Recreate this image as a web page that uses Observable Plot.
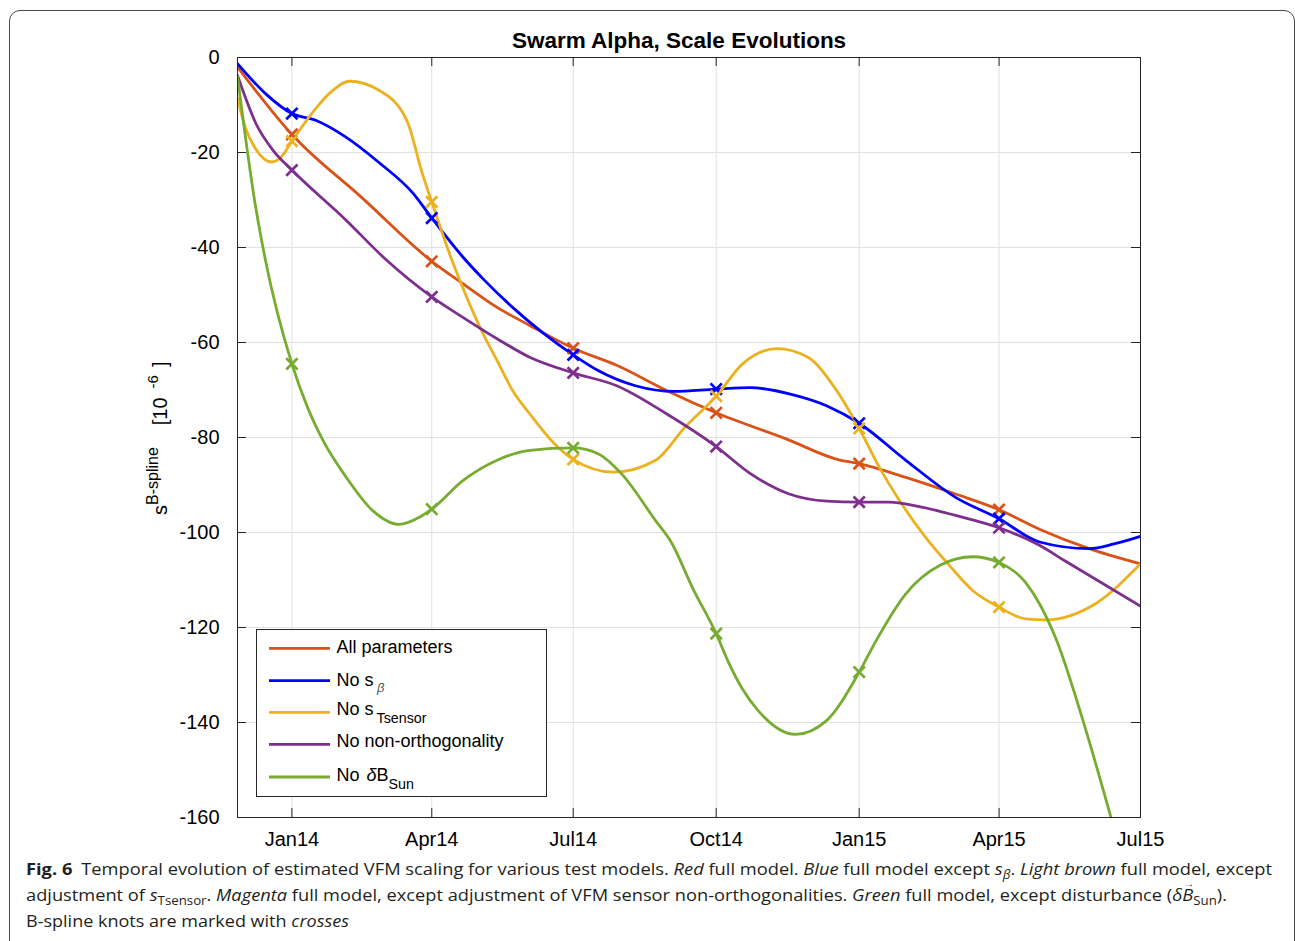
<!DOCTYPE html>
<html>
<head>
<meta charset="utf-8">
<script src="https://cdn.jsdelivr.net/npm/d3@7"></script>
<script src="https://cdn.jsdelivr.net/npm/@observablehq/plot@0.6"></script>
<style>
html, body { margin: 0; padding: 0; background: #fff; }
body { width: 1295px; height: 941px; overflow: hidden; position: relative; font-family: 'Liberation Sans', Arial, sans-serif; }
#frame { position: absolute; left: 9px; top: 9.5px; width: 1285.5px; height: 1000px; border: 1.3px solid #4a4a4a; border-radius: 11px; box-sizing: border-box; }
#chart { position: absolute; left: 0; top: 0; }
#caption { position: absolute; left: 0; top: 0; pointer-events: none; }
</style>
</head>
<body>
<div id="frame"></div>
<div id="chart"></div>
<svg id="caption" width="1295" height="941" font-family="'Open Sans', 'Noto Sans', sans-serif" font-size="16.5" fill="#231f20" text-anchor="start">
  <text x="26" y="874.5" textLength="1246" lengthAdjust="spacingAndGlyphs"><tspan font-weight="bold">Fig. 6</tspan><tspan dx="8">Temporal evolution of estimated VFM scaling for various test models. </tspan><tspan font-style="italic">Red</tspan><tspan> full model. </tspan><tspan font-style="italic">Blue</tspan><tspan> full model except </tspan><tspan font-style="italic">s</tspan><tspan font-style="italic" font-size="12" dy="4">β</tspan><tspan dy="-4">. </tspan><tspan font-style="italic">Light brown</tspan><tspan> full model, except</tspan></text>
  <text x="26" y="900.5" textLength="1201" lengthAdjust="spacingAndGlyphs"><tspan>adjustment of </tspan><tspan font-style="italic">s</tspan><tspan font-size="12" dy="4">Tsensor</tspan><tspan dy="-4">. </tspan><tspan font-style="italic">Magenta</tspan><tspan> full model, except adjustment of VFM sensor non-orthogonalities. </tspan><tspan font-style="italic">Green</tspan><tspan> full model, except disturbance (</tspan><tspan font-style="italic">δB</tspan><tspan font-size="12" dy="4">Sun</tspan><tspan dy="-4">).</tspan></text>
  <text x="1184" y="887" font-size="10" font-style="italic">→</text>
  <text x="26" y="926.5" textLength="323" lengthAdjust="spacingAndGlyphs"><tspan>B-spline knots are marked with </tspan><tspan font-style="italic">crosses</tspan></text>
</svg>
<script>
// ---------------- data ----------------
const chartTitle = "Swarm Alpha, Scale Evolutions";
const xDomain = ["2013-11-27", "2015-07-01"];
const yDomain = [-160, 0];
const xTickDates = ["2014-01-01", "2014-04-01", "2014-07-01", "2014-10-01", "2015-01-01", "2015-04-01", "2015-07-01"];
const yTicks = [-160, -140, -120, -100, -80, -60, -40, -20, 0];
const knotDates = ["2014-01-01", "2014-04-01", "2014-07-01", "2014-10-01", "2015-01-01", "2015-04-01"];

const seriesNames = ["All parameters", "No s_beta", "No s_Tsensor", "No non-orthogonality", "No deltaB_Sun"];
const seriesColors = ["#D95319", "#0000FF", "#EDB120", "#7E2F8E", "#77AC30"];

const allParameters = [
  ["2013-11-27", -2.0], ["2014-01-01", -16.2], ["2014-02-15", -29.5], ["2014-04-01", -42.9],
  ["2014-04-21", -47.6], ["2014-05-13", -52.6], ["2014-06-03", -56.4], ["2014-07-01", -61.2],
  ["2014-07-29", -64.8], ["2014-08-30", -70.1], ["2014-10-01", -74.8], ["2014-11-15", -80.3],
  ["2014-12-19", -84.7], ["2015-01-01", -85.5], ["2015-01-31", -88.4], ["2015-03-04", -91.9],
  ["2015-04-01", -95.2], ["2015-04-27", -99.3], ["2015-05-29", -103.4], ["2015-07-01", -106.6]
];
const noSBeta = [
  ["2013-11-27", -1.3], ["2013-12-15", -7.6], ["2014-01-01", -11.8], ["2014-01-17", -13.3],
  ["2014-02-05", -16.8], ["2014-02-26", -22.1], ["2014-03-20", -28.6], ["2014-04-01", -33.8],
  ["2014-04-21", -42.0], ["2014-05-04", -46.6], ["2014-05-23", -52.6], ["2014-07-01", -62.6],
  ["2014-07-17", -65.9], ["2014-08-10", -69.1], ["2014-09-04", -70.3], ["2014-10-01", -69.8],
  ["2014-10-23", -69.5], ["2014-11-17", -70.8], ["2014-12-11", -73.3], ["2015-01-01", -77.0],
  ["2015-01-31", -84.8], ["2015-03-04", -92.6], ["2015-04-01", -97.1], ["2015-04-27", -102.0],
  ["2015-05-29", -103.4], ["2015-06-14", -102.4], ["2015-07-01", -100.8]
];
const noSTsensor = [
  ["2013-11-27", -8.6], ["2013-12-02", -14.7], ["2013-12-08", -18.9], ["2013-12-19", -22.0],
  ["2013-12-25", -21.0], ["2014-01-01", -17.6], ["2014-01-17", -10.5], ["2014-01-26", -7.3],
  ["2014-02-07", -5.0], ["2014-02-26", -6.9], ["2014-03-16", -13.3], ["2014-03-26", -24.5],
  ["2014-04-01", -30.4], ["2014-04-14", -42.7], ["2014-04-19", -46.9], ["2014-05-02", -56.8],
  ["2014-05-13", -63.8], ["2014-05-23", -70.1], ["2014-06-03", -75.0], ["2014-06-18", -81.0],
  ["2014-07-01", -84.6], ["2014-07-27", -87.3], ["2014-08-23", -84.8], ["2014-09-11", -77.8],
  ["2014-10-01", -71.3], ["2014-10-18", -64.5], ["2014-11-09", -61.3], ["2014-11-29", -63.1],
  ["2014-12-16", -69.4], ["2015-01-01", -78.1], ["2015-01-14", -86.3], ["2015-01-27", -93.3],
  ["2015-02-11", -100.3], ["2015-03-01", -107.3], ["2015-03-15", -112.2], ["2015-04-01", -115.7],
  ["2015-04-18", -118.2], ["2015-05-01", -118.4], ["2015-06-02", -115.0], ["2015-07-01", -106.6]
];
const noNonOrthogonality = [
  ["2013-11-27", -3.8], ["2013-12-09", -14.0], ["2013-12-20", -19.6], ["2014-01-01", -23.7],
  ["2014-02-05", -34.3], ["2014-03-03", -42.7], ["2014-04-01", -50.4], ["2014-04-21", -54.7],
  ["2014-05-13", -59.2], ["2014-06-03", -63.1], ["2014-07-01", -66.4], ["2014-07-29", -69.1],
  ["2014-08-30", -75.0], ["2014-10-01", -81.9], ["2014-10-23", -87.6], ["2014-11-17", -91.9],
  ["2014-12-11", -93.4], ["2015-01-01", -93.6], ["2015-01-20", -93.6], ["2015-02-11", -94.7],
  ["2015-03-04", -96.4], ["2015-04-01", -99.0], ["2015-04-27", -102.7], ["2015-05-13", -105.9],
  ["2015-07-01", -115.5]
];
const noDeltaBSun = [
  ["2013-11-27", -4.0], ["2013-12-08", -30.1], ["2013-12-15", -42.7], ["2014-01-01", -64.5],
  ["2014-01-11", -73.6], ["2014-01-21", -80.6], ["2014-02-05", -88.4], ["2014-02-22", -95.4],
  ["2014-03-11", -98.3], ["2014-03-24", -96.8], ["2014-04-01", -95.1], ["2014-04-21", -89.1],
  ["2014-05-13", -84.8], ["2014-06-03", -82.7], ["2014-07-01", -82.2], ["2014-07-17", -83.4],
  ["2014-08-01", -87.6], ["2014-08-23", -97.5], ["2014-09-02", -102.0], ["2014-09-16", -111.8],
  ["2014-10-01", -121.3], ["2014-10-09", -127.4], ["2014-10-18", -133.0], ["2014-10-28", -137.5],
  ["2014-11-21", -142.5], ["2014-12-11", -139.6], ["2015-01-01", -129.4], ["2015-01-12", -122.7],
  ["2015-01-31", -112.9], ["2015-02-22", -106.9], ["2015-03-15", -105.1], ["2015-04-01", -106.3],
  ["2015-04-18", -110.5], ["2015-04-27", -115.0], ["2015-05-08", -122.7], ["2015-05-25", -139.6],
  ["2015-06-12", -160.0]
];

// ---------------- build ----------------
const parse = d3.utcParse("%Y-%m-%d");
const seriesData = [allParameters, noSBeta, noSTsensor, noNonOrthogonality, noDeltaBSun];
const knotSet = new Set(knotDates);
const series = seriesData.map((pts, i) => ({
  name: seriesNames[i],
  color: seriesColors[i],
  line: pts.map(([d, v]) => ({date: parse(d), value: v})),
  knots: pts.filter(([d]) => knotSet.has(d)).map(([d, v]) => ({date: parse(d), value: v}))
}));

const W = 1295, H = 860;
const mL = 237, mR = 155, mT = 57, mB = 43;
const frameW = W - mL - mR, frameH = H - mT - mB;
const tickLen = 9;
const axisColor = "#262626";
const xTicks = xTickDates.map(parse);

const marks = [
  Plot.gridX(xTicks, {stroke: "#e0e0e0", strokeOpacity: 1, strokeWidth: 1}),
  Plot.gridY(yTicks, {stroke: "#e0e0e0", strokeOpacity: 1, strokeWidth: 1})
];
series.forEach(s => {
  marks.push(Plot.line(s.line, {x: "date", y: "value", stroke: s.color, strokeWidth: 2.8, curve: "monotone-x", clip: true}));
});
series.forEach(s => {
  marks.push(Plot.dot(s.knots, {x: "date", y: "value", symbol: "times", stroke: s.color, r: 5.2, strokeWidth: 2.7}));
});
marks.push(
  Plot.tickX(xTicks, {x: d => d, insetTop: frameH - tickLen, stroke: axisColor}),
  Plot.tickX(xTicks, {x: d => d, insetBottom: frameH - tickLen, stroke: axisColor}),
  Plot.tickY(yTicks, {y: d => d, insetRight: frameW - tickLen, stroke: axisColor}),
  Plot.tickY(yTicks, {y: d => d, insetLeft: frameW - tickLen, stroke: axisColor}),
  Plot.frame({stroke: axisColor, strokeWidth: 1}),
  Plot.axisX({ticks: xTicks, tickFormat: d3.utcFormat("%b%y"), tickSize: 0, tickPadding: 14, fontSize: 20, label: null, fill: "#000"}),
  Plot.axisY({ticks: yTicks, tickFormat: d => String(d), tickSize: 0, tickPadding: 18, fontSize: 20, label: null, fill: "#000"}),
  Plot.text([chartTitle], {text: d => d, frameAnchor: "top", lineAnchor: "bottom", dy: -10, dx: -10, fontSize: 22.5, fontWeight: "bold", fill: "#000"})
);

const chart = Plot.plot({
  width: W, height: H,
  marginLeft: mL, marginRight: mR, marginTop: mT, marginBottom: mB,
  style: {fontFamily: "'Liberation Sans', Arial, sans-serif", fontSize: "20px", background: "transparent", overflow: "visible", color: "#000"},
  x: {type: "utc", domain: xDomain.map(parse), label: null},
  y: {domain: yDomain, label: null},
  marks
});
document.getElementById("chart").appendChild(chart);

// ---------------- y-axis label ----------------
const svg = d3.select(chart);
const yl = svg.append("text")
  .attr("transform", "translate(167,515) rotate(-90)")
  .attr("text-anchor", "start")
  .attr("font-family", "'Liberation Sans', Arial, sans-serif")
  .attr("font-size", 20).attr("fill", "#000");
yl.append("tspan").text("s");
yl.append("tspan").attr("font-size", 16).attr("dy", -9).text("B-spline");
yl.append("tspan").attr("dx", 22).attr("dy", 9).text("[10");
yl.append("tspan").attr("font-size", 15).attr("dx", 9).attr("dy", -9).text("-6");
yl.append("tspan").attr("dx", 8).attr("dy", 9).text("]");

// ---------------- legend ----------------
const lg = svg.append("g")
  .attr("text-anchor", "start")
  .attr("font-family", "'Liberation Sans', Arial, sans-serif")
  .attr("font-size", 18).attr("fill", "#000");
lg.append("rect").attr("x", 256.5).attr("y", 629.5).attr("width", 290).attr("height", 167)
  .attr("fill", "#fff").attr("stroke", axisColor).attr("stroke-width", 1);
const rowLineY = [648.3, 680.7, 712.3, 744.3, 777];
const rowTextY = [652.5, 685.5, 715, 747.3, 780.5];
series.forEach((s, i) => {
  lg.append("line").attr("x1", 269).attr("x2", 330).attr("y1", rowLineY[i]).attr("y2", rowLineY[i])
    .attr("stroke", s.color).attr("stroke-width", 2.8);
});
lg.append("text").attr("x", 336.5).attr("y", rowTextY[0]).text("All parameters");
lg.append("text").attr("x", 336.5).attr("y", rowTextY[1]).text("No s");
lg.append("text").attr("x", 377).attr("y", 692).attr("font-size", 13).attr("font-style", "italic").attr("fill", "#555").text("β");
lg.append("text").attr("x", 336.5).attr("y", rowTextY[2]).text("No s");
lg.append("text").attr("x", 376.5).attr("y", 723).attr("font-size", 14.3).text("Tsensor");
lg.append("text").attr("x", 336.5).attr("y", rowTextY[3]).text("No non-orthogonality");
lg.append("text").attr("x", 336.5).attr("y", rowTextY[4]).text("No");
lg.append("text").attr("x", 366.5).attr("y", rowTextY[4]).attr("font-style", "italic").text("δ");
lg.append("text").attr("x", 376.5).attr("y", rowTextY[4]).text("B");
lg.append("text").attr("x", 388.5).attr("y", 789).attr("font-size", 14.3).text("Sun");
</script>
</body>
</html>
